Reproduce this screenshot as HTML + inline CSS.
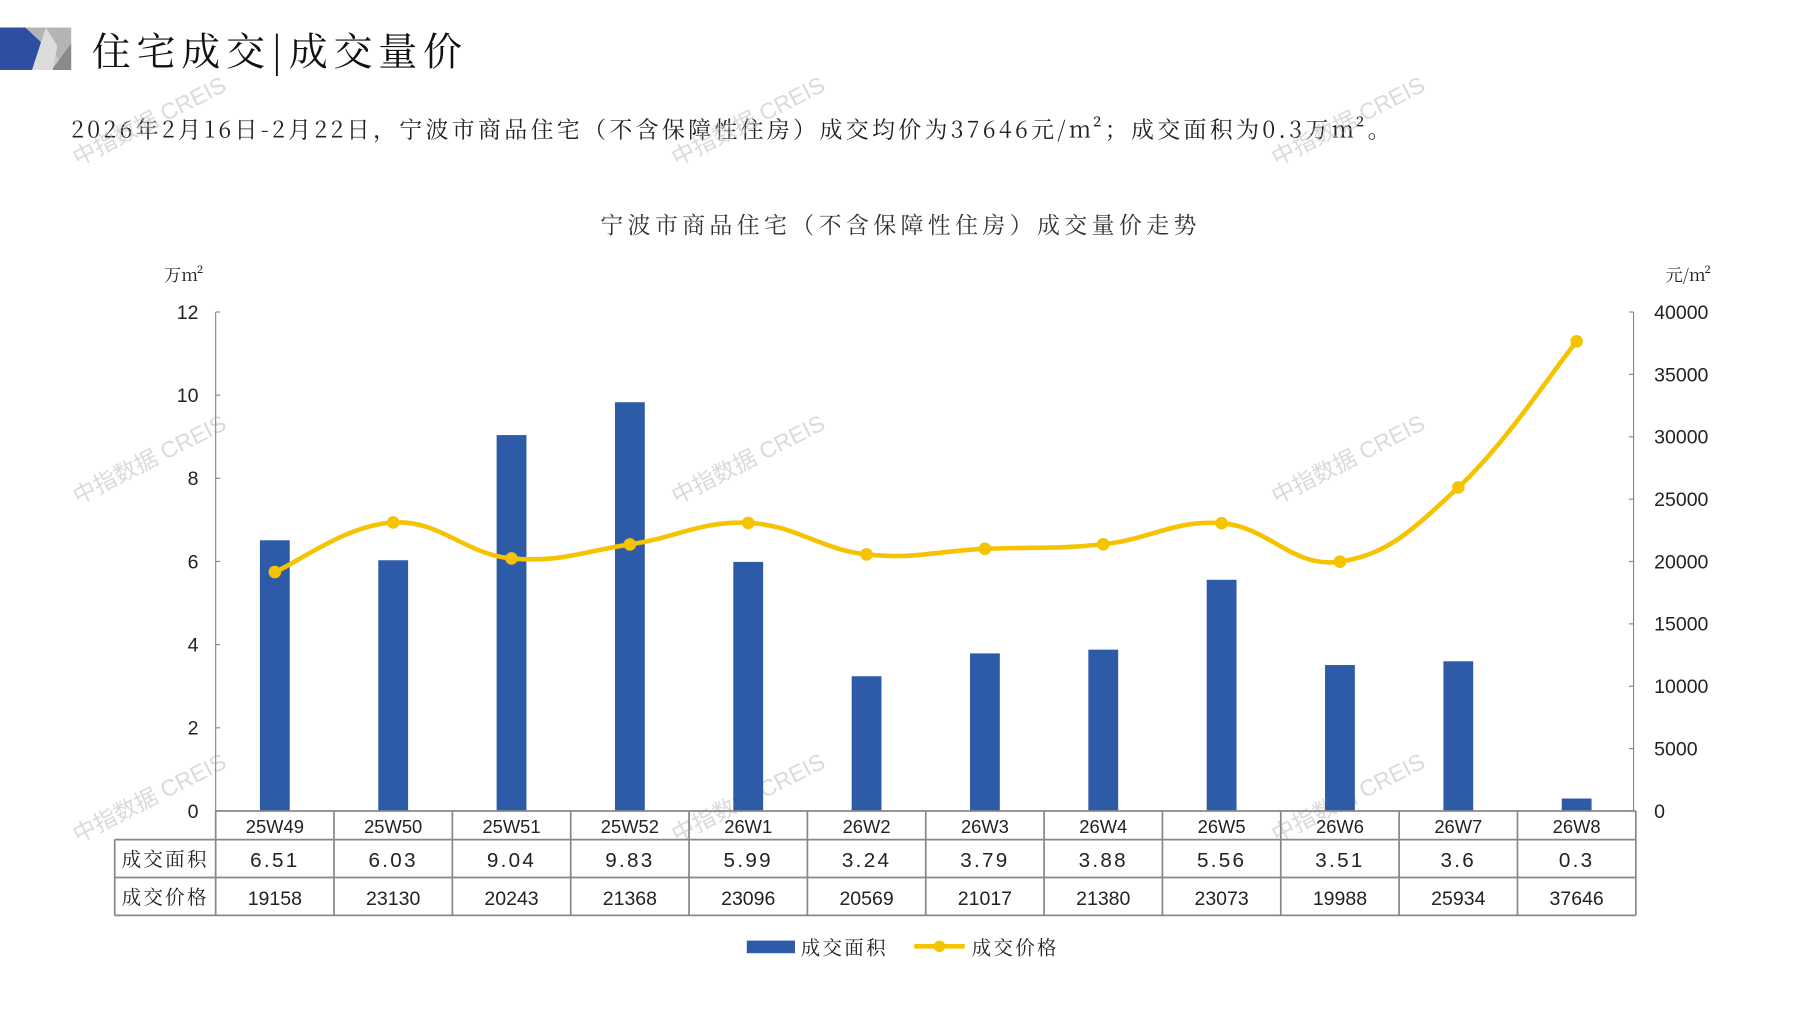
<!DOCTYPE html>
<html><head><meta charset="utf-8"><style>
html,body{margin:0;padding:0;background:#fff;}
svg{display:block;}
text{font-family:"Liberation Sans","Noto Sans CJK SC",sans-serif;}
.kai{font-family:"Noto Serif CJK SC","Liberation Serif",serif;}
</style></head><body>
<svg id="chart" width="1797" height="1010" viewBox="0 0 1566.5 880.5" preserveAspectRatio="none" xmlns="http://www.w3.org/2000/svg">
<g>
<polygon points="0,24 40,24 28,61 0,61" fill="#2E4FA0"/>
<polygon points="40,24 62,24 62,61 28,61" fill="#C8C8C8"/>
<polygon points="22,24 62,24 62,61" fill="#B4B4B4"/>
<polygon points="62,38 62,61 45,61 " fill="#8A8A8A"/>
<polygon points="28,61 40,24 50,40 46,61" fill="#DCDCDC"/>
</g>
<text class="kai" x="80" y="57" font-size="34" fill="#111" letter-spacing="5">住宅成交|成交量价</text>
<text class="kai" x="62" y="120" font-size="20" fill="#222" letter-spacing="2.9">2026年2月16日-2月22日，宁波市商品住宅（不含保障性住房）成交均价为37646元/m²；成交面积为0.3万m²。</text>
<text class="kai" x="785" y="203" font-size="20" fill="#333" text-anchor="middle" letter-spacing="3.8">宁波市商品住宅（不含保障性住房）成交量价走势</text>
<text class="kai" x="143" y="245" font-size="15" fill="#222">万m²</text>
<text class="kai" x="1452" y="245" font-size="15" fill="#222">元/m²</text>
<g id="watermarks" fill="#BBBBBB" fill-opacity="0.55" font-size="20"></g>
<g id="axes"></g>
<g id="bars"></g>
<g id="line"></g>
<g id="table"></g>
<g>
<rect x="651" y="820" width="42" height="11" fill="#2E5BA8"/>
<text class="kai" x="698" y="832" font-size="17" fill="#222" letter-spacing="2">成交面积</text>
<line x1="797" y1="825" x2="841" y2="825" stroke="#F5C300" stroke-width="4"/>
<circle cx="819" cy="825" r="5" fill="#F5C300"/>
<text class="kai" x="847" y="832" font-size="17" fill="#222" letter-spacing="2">成交价格</text>
</g>
</svg>
<script>
const categories=["25W49","25W50","25W51","25W52","26W1","26W2","26W3","26W4","26W5","26W6","26W7","26W8"];
const areaValues=[6.51,6.03,9.04,9.83,5.99,3.24,3.79,3.88,5.56,3.51,3.6,0.3];
const areaLabels=["6.51","6.03","9.04","9.83","5.99","3.24","3.79","3.88","5.56","3.51","3.6","0.3"];
const priceValues=[19158,23130,20243,21368,23096,20569,21017,21380,23073,19988,25934,37646];
const leftTicks=[0,2,4,6,8,10,12];
const rightTicks=[0,5000,10000,15000,20000,25000,30000,35000,40000];

const NS="http://www.w3.org/2000/svg";
const X0=188,X1=1426,Y0=707,Y1=272;
const colW=(X1-X0)/categories.length;
const xc=i=>X0+colW*(i+0.5);
const yL=v=>Y0-(v/12)*(Y0-Y1);
const yR=v=>Y0-(v/40000)*(Y0-Y1);
function mk(tag,attrs,parent,txt){const e=document.createElementNS(NS,tag);for(const k in attrs)e.setAttribute(k,attrs[k]);if(txt!==undefined)e.textContent=txt;parent.appendChild(e);return e;}

const wm=document.getElementById('watermarks');
[[68,145],[590,145],[1113,145],[68,440],[590,440],[1113,440],[68,735],[590,735],[1113,735]].forEach(p=>{
 const t=mk('text',{x:p[0],y:p[1],transform:`rotate(-27 ${p[0]} ${p[1]})`},wm,'中指数据 CREIS');
 
 
});

const ax=document.getElementById('axes');
const la=mk('line',{x1:X0,y1:Y1,x2:X0,y2:Y0,stroke:'#888','stroke-width':1},ax);


const ra=mk('line',{x1:1424,y1:Y1,x2:1424,y2:Y0,stroke:'#888','stroke-width':1},ax);


leftTicks.forEach(v=>{
 mk('line',{x1:X0,y1:yL(v),x2:X0+4,y2:yL(v),stroke:'#888'},ax);
 const t=mk('text',{x:173,y:yL(v)+6,'font-size':17,'text-anchor':'end',fill:'#222'},ax,String(v));
 
 
});
rightTicks.forEach(v=>{
 mk('line',{x1:1420,y1:yR(v),x2:1424,y2:yR(v),stroke:'#888'},ax);
 const t=mk('text',{x:1442,y:yR(v)+6,'font-size':17,fill:'#222'},ax,String(v));
 
 
});

const bg=document.getElementById('bars');
areaValues.forEach((v,i)=>{
 const r=mk('rect',{x:xc(i)-13,y:yL(v),width:26,height:Y0-yL(v),fill:'#2E5BA8'},bg);
 
 
});

const lg=document.getElementById('line');
const pts=priceValues.map((v,i)=>[xc(i),yR(v)]);
let d=`M${pts[0][0]},${pts[0][1]}`;
for(let i=0;i<pts.length-1;i++){
 const p0=pts[Math.max(0,i-1)],p1=pts[i],p2=pts[i+1],p3=pts[Math.min(pts.length-1,i+2)];
 const t=0.2;
 const c1=[p1[0]+(p2[0]-p0[0])*t,p1[1]+(p2[1]-p0[1])*t];
 const c2=[p2[0]-(p3[0]-p1[0])*t,p2[1]-(p3[1]-p1[1])*t];
 d+=` C${c1[0]},${c1[1]} ${c2[0]},${c2[1]} ${p2[0]},${p2[1]}`;
}
const path=mk('path',{d:d,fill:'none',stroke:'#F5C300','stroke-width':4},lg);


pts.forEach((p,i)=>{
 const c=mk('circle',{cx:p[0],cy:p[1],r:5.5,fill:'#F5C300'},lg);
 
 
});

const tb=document.getElementById('table');
const st={stroke:'#888','stroke-width':1.5};
mk('line',Object.assign({x1:X0,y1:732,x2:X1,y2:732},st),tb);
mk('line',Object.assign({x1:100,y1:732,x2:100,y2:798},st),tb);
mk('line',Object.assign({x1:100,y1:732,x2:X0,y2:732},st),tb);
mk('line',Object.assign({x1:100,y1:765,x2:X1,y2:765},st),tb);
mk('line',Object.assign({x1:100,y1:798,x2:X1,y2:798},st),tb);
mk('line',Object.assign({x1:X0,y1:707,x2:X1,y2:707},st),tb);
for(let i=0;i<=categories.length;i++){
 mk('line',Object.assign({x1:X0+colW*i,y1:707,x2:X0+colW*i,y2:798},st),tb);
}
const h1=mk('text',{x:144,y:755,'font-size':17,'text-anchor':'middle',fill:'#222','class':'kai','letter-spacing':'2'},tb,'成交面积');


const h2=mk('text',{x:144,y:788,'font-size':17,'text-anchor':'middle',fill:'#222','class':'kai','letter-spacing':'2'},tb,'成交价格');


categories.forEach((c,i)=>{
 const a=mk('text',{x:xc(i),y:726,'font-size':16,'text-anchor':'middle',fill:'#222'},tb,c);
 
 
 const b=mk('text',{x:xc(i),y:756,'font-size':18,'text-anchor':'middle',fill:'#222','letter-spacing':'2'},tb,areaLabels[i]);
 
 
 const p=mk('text',{x:xc(i),y:789,'font-size':17,'text-anchor':'middle',fill:'#222'},tb,String(priceValues[i]));
 
 
});
</script>
</body></html>
